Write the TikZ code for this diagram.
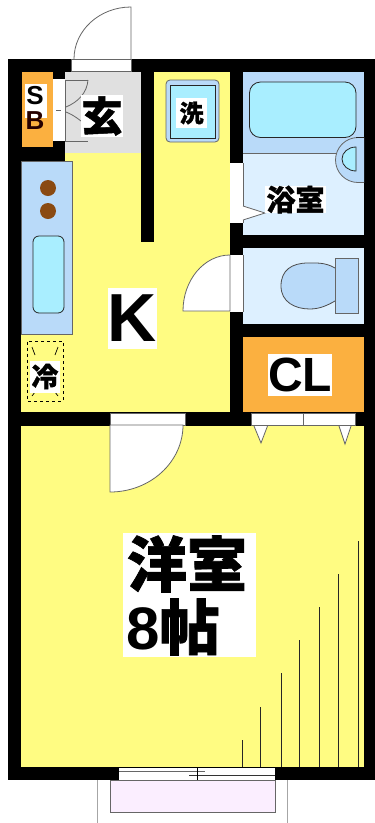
\documentclass[tikz,border=0pt]{standalone}
\usepackage{fontspec}
\setmainfont{Liberation Sans}
\newfontfamily\cjk[BoldFeatures={FakeBold=1.2}]{Noto Sans CJK JP}
\definecolor{roomyellow}{HTML}{FFFC82}
\definecolor{hallgray}{HTML}{E0E0E0}
\definecolor{closetorange}{HTML}{FBB040}
\definecolor{fixblue}{HTML}{B9DAF9}
\definecolor{watercyan}{HTML}{A9EEFF}
\definecolor{palebath}{HTML}{DDF0FF}
\definecolor{burner}{HTML}{8A4A12}
\definecolor{balconypink}{HTML}{FBEEFF}
\definecolor{linegray}{HTML}{666666}
\tikzset{
  x=1pt,y=-1pt,
  wallfill/.style={fill=black},
  thin line/.style={draw=linegray,line width=0.8pt},
  dark line/.style={draw=black!85,line width=0.8pt},
  label box/.style={fill=white,inner sep=0pt,text=black,align=center,font=\bfseries},
}
\begin{document}
\begin{tikzpicture}
\useasboundingbox (0,0) rectangle (375,823);
\fill[white] (0,0) rectangle (375,823);
% walls mass
\fill[wallfill] (8,59) rectangle (375,780);
% rooms
\fill[roomyellow] (21,72) rectangle (230,412);
\fill[roomyellow] (21,426) rectangle (364,767);
\fill[hallgray] (65,72) rectangle (141,153);
% partition
\fill[wallfill] (141,59) rectangle (154,242);
% SB block
\fill[wallfill] (21,72) rectangle (65,161);
\fill[closetorange] (21.5,72) rectangle (53,147);
\fill[white] (53,79) rectangle (65,141);
% entry door
\filldraw[fill=white,draw=linegray,line width=0.8pt] (71,59) rectangle (131,71);
\draw[thin line] (131,59) -- (131,7) arc[start angle=90,end angle=180,x radius=57,y radius=-52];
% closet door
\draw[thin line] (65,80) -- (65,141);
\draw[thin line] (65,80) -- (88,80);
\draw[thin line] (88,80) .. controls (87,93) and (78,102) .. (66,107);
\draw[thin line] (65,141) -- (88,141);
\draw[thin line] (66,112) .. controls (71,114) and (76,117) .. (81,121);
\draw[thin line] (56,110) -- (61,110);
% kitchen counter
\filldraw[fill=fixblue,draw=linegray,line width=0.6pt] (21,161) rectangle (72,334);
\fill[burner] (48,188) circle[radius=8];
\fill[burner] (48,211) circle[radius=8];
\filldraw[fill=watercyan,dark line,rounded corners=6pt] (33,236) rectangle (64,313);
% fridge
\draw[black,line width=0.9pt,dash pattern=on 3pt off 3pt] (27.5,341.5) rectangle (63,401);
\draw[black,line width=0.7pt] (32,347) -- (35,355) (58,347) -- (55,355) (32,396) -- (35,392) (58,396) -- (55,392);
% washer
\filldraw[fill=fixblue,draw=linegray,line width=0.8pt,rounded corners=4pt] (166,80) rectangle (219,142);
\filldraw[fill=watercyan,dark line] (170,85) rectangle (215,138);
% bath
\fill[palebath] (243,72) rectangle (364,235);
\fill[fixblue] (243,72) rectangle (364,153);
\draw[thin line] (243,153) -- (340,153);
\filldraw[fill=fixblue,draw=linegray,line width=0.8pt] (364,137.5) -- (358,137.5) arc[start angle=90,end angle=270,x radius=22.5,y radius=-22.5] -- (364,182.5);
\filldraw[fill=watercyan,dark line] (356,147) -- (356,171) arc[start angle=270,end angle=90,x radius=14,y radius=-12] -- cycle;
\filldraw[fill=watercyan,dark line,rounded corners=11pt] (249.5,82) rectangle (356,137.5);
\draw[dark line] (356,137.5) -- (364,137.5);
% bath door
\fill[white] (230,163) rectangle (243,223);
\draw[thin line] (243,163) -- (243,223);
\filldraw[fill=white,draw=linegray,line width=0.8pt] (243,206) -- (265,213) -- (243,220);
% toilet
\fill[palebath] (243,248) rectangle (364,324);
\fill[white] (230,255) rectangle (243,312);
\draw[thin line] (243,255) -- (243,312);
\filldraw[fill=white,draw=linegray,line width=0.8pt] (230,255) arc[start angle=90,end angle=180,x radius=47,y radius=-56] -- (230,311) -- cycle;
\filldraw[fill=fixblue,draw=black!70,line width=0.8pt] (335,268) .. controls (325,262) and (315,263) .. (308,263) .. controls (292,263) and (281,270) .. (281,286) .. controls (281,302) and (295,309) .. (310,309) .. controls (320,309) and (328,305) .. (335,301);
\filldraw[fill=fixblue,draw=linegray,line width=0.8pt] (335,258) rectangle (358,313.5);
% closet
\fill[closetorange] (243,337) rectangle (364,412);
\filldraw[fill=white,draw=linegray,line width=0.6pt] (251,413) rectangle (355,425);
\draw[thin line] (303,413) -- (303,425);
\filldraw[fill=white,draw=linegray,line width=0.8pt] (254,426) -- (261,443) -- (267.5,426);
\filldraw[fill=white,draw=linegray,line width=0.8pt] (339,426) -- (345,444) -- (351,426);
% room door
\filldraw[fill=white,draw=linegray,line width=0.6pt] (110,413) rectangle (185,425);
\filldraw[fill=white,draw=linegray,line width=0.8pt] (110,425) -- (110,492) arc[start angle=270,end angle=360,x radius=73,y radius=-67] -- cycle;
% floor lines
\foreach \px/\py in {242/740,260/707,281/673,299/640,319/607,338/574,358/541}
  \draw[black!85,line width=0.8pt] (\px,\py) -- (\px,767);
% window
\fill[white] (119,768) rectangle (275,780);
\draw[thin line] (119,780) -- (275,780);
\draw[linegray,line width=0.9pt] (119,771) -- (205,771);
\draw[black!80,line width=0.9pt] (189,775) -- (275,775);
\draw[black,line width=0.8pt] (197,768) -- (197,780);
% balcony
\draw[thin line,draw=gray!70] (97,780) -- (97,823) (287,780) -- (287,823);
\filldraw[fill=balconypink,draw=linegray,line width=0.9pt] (110,780) rectangle (275,812);
% labels
\node[label box,minimum width=22pt,minimum height=34pt] (sbbox) at (36,101) {};
\node[inner sep=0pt,font=\bfseries\fontsize{26}{26}\selectfont] (sblabelS) at (35,96) {S};
\node[inner sep=0pt,text=black!85!red,font=\bfseries\fontsize{26}{26}\selectfont] (sblabelB) at (35,121) {B};
\node[label box,minimum width=42pt,minimum height=42pt,font=\cjk\bfseries\fontsize{41}{41}\selectfont] (genkan) at (102,116) {玄};
\node[label box,minimum width=31pt,minimum height=30pt,font=\cjk\bfseries\fontsize{24}{24}\selectfont] (sentaku) at (191.5,113) {洗};
\node[label box,minimum width=61pt,minimum height=27pt,font=\cjk\bfseries\fontsize{29}{29}\selectfont] (yokushitsu) at (295.5,199.5) {浴室};
\node[label box,minimum width=47pt,minimum height=61pt,font=\bfseries\fontsize{68}{68}\selectfont] (kitchen) at (132.5,318.5) {K};
\node[label box,minimum width=30pt,minimum height=32pt,font=\cjk\bfseries\fontsize{27}{27}\selectfont] (reizo) at (45,376.5) {冷};
\node[label box,minimum width=62pt,minimum height=42pt,font=\bfseries\fontsize{48}{48}\selectfont] (closet) at (300,375) {CL};
\node[label box,minimum width=133pt,minimum height=124pt] (yoshitsubox) at (189.5,595) {};
\node[inner sep=0pt,font=\cjk\bfseries\fontsize{60}{60}\selectfont,anchor=center] (yoshitsu) at (187,564) {洋室};
\node[inner sep=0pt,font=\cjk\bfseries\fontsize{60}{60}\selectfont,anchor=center] (hachijo) at (173,627) {{\bfseries\fontfamily{\rmdefault}\selectfont 8}帖};
\end{tikzpicture}
\end{document}
